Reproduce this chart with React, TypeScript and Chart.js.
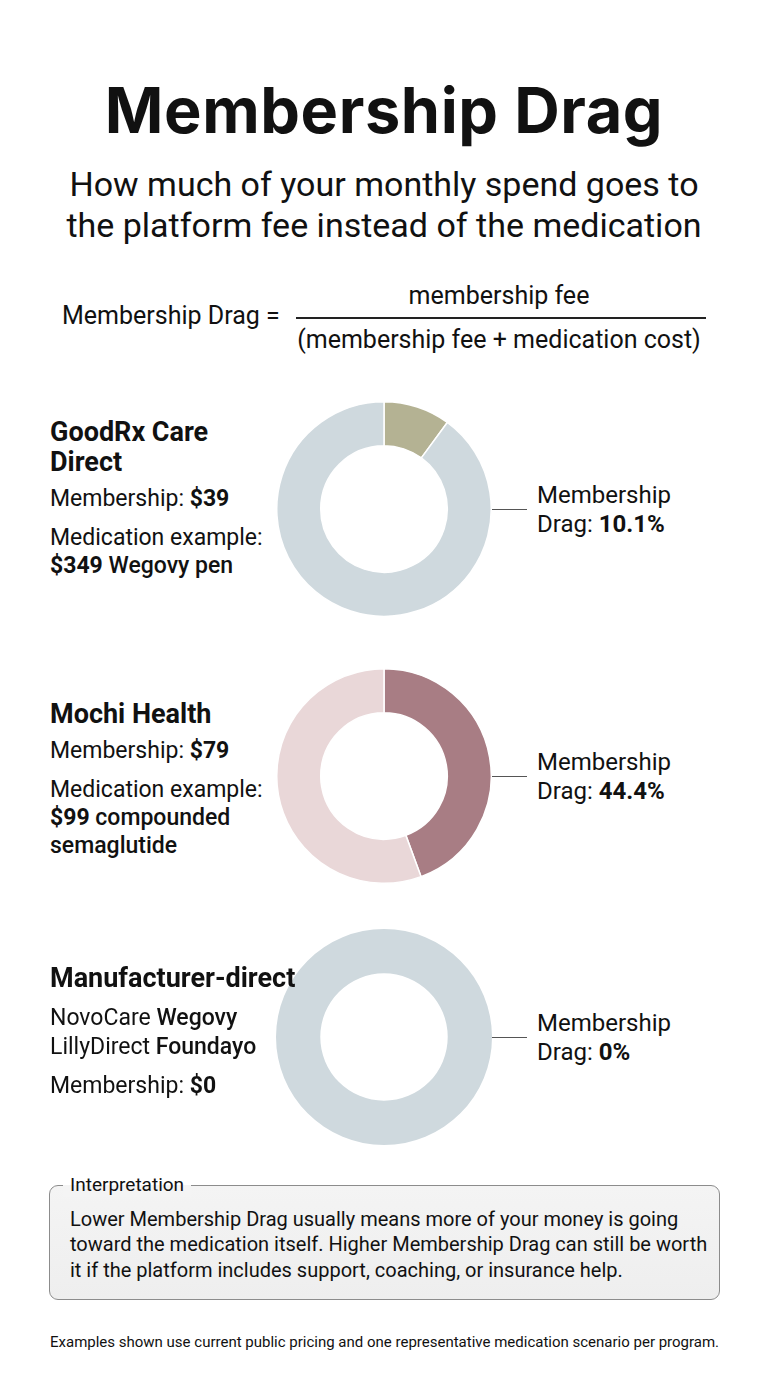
import React, { useEffect, useRef } from "react";
import { Chart, registerables } from "chart.js";

Chart.register(...registerables);

// ---- Data ----
const programs = ["GoodRx Care Direct", "Mochi Health", "Manufacturer-direct"];
const membershipFees = [39, 79, 0];
const medicationCosts = [349, 99, 0];
const dragPercentLabels = ["10.1%", "44.4%", "0%"];
const segmentLabels = ["Membership fee", "Medication cost"];
const feeColors = ["#b4b293", "#a87d84", "#cfd9de"];
const medColors = ["#cfd9de", "#e9d7d8", "#cfd9de"];

const FONT = "Roboto, 'Noto Sans', 'DejaVu Sans', sans-serif";
const CENTERS_Y = [509, 776, 1037];
const SIZE = 216;

function Donut({ idx }: { idx: number }) {
  const ref = useRef<HTMLCanvasElement | null>(null);
  useEffect(() => {
    if (!ref.current) return;
    const fee = membershipFees[idx];
    const med = medicationCosts[idx];
    const data = fee === 0 && med === 0 ? [0, 1] : [fee, med];
    const hasZero = data.some((v) => v === 0);
    const chart = new Chart(ref.current, {
      type: "doughnut",
      data: {
        labels: segmentLabels,
        datasets: [
          {
            data,
            backgroundColor: [feeColors[idx], medColors[idx]],
            borderColor: "#ffffff",
            borderWidth: hasZero ? 0 : 1.5,
          },
        ],
      },
      options: {
        animation: false,
        responsive: false,
        maintainAspectRatio: false,
        cutout: "59%",
        layout: { padding: 0 },
        plugins: { legend: { display: false }, tooltip: { enabled: false } },
        events: [],
      },
    });
    return () => chart.destroy();
  }, [idx]);
  return (
    <canvas
      ref={ref}
      width={SIZE}
      height={SIZE}
      style={{
        position: "absolute",
        left: 384 - SIZE / 2,
        top: CENTERS_Y[idx] - SIZE / 2,
        width: SIZE,
        height: SIZE,
      }}
    />
  );
}

function T({
  x,
  y,
  size,
  weight = 400,
  children,
  center = false,
  lh,
  ls,
}: {
  x: number;
  y: number;
  size: number;
  weight?: number;
  children: React.ReactNode;
  center?: boolean;
  lh?: number;
  ls?: number;
}) {
  const lineH = lh ?? Math.round(size * 1.2);
  const style: React.CSSProperties = {
    position: "absolute",
    top: y - lineH / 2,
    fontSize: size,
    lineHeight: lineH + "px",
    fontWeight: weight,
    whiteSpace: "nowrap",
    color: "#111",
  };
  if (ls !== undefined) style.letterSpacing = ls;
  if (center) {
    style.left = x - 384;
    style.width = 768;
    style.textAlign = "center";
  } else {
    style.left = x;
  }
  return <div style={style}>{children}</div>;
}

const B = ({ children }: { children: React.ReactNode }) => <span style={{ fontWeight: 700 }}>{children}</span>;
const M = ({ children }: { children: React.ReactNode }) => <span style={{ fontWeight: 500 }}>{children}</span>;

export default function App() {
  useEffect(() => {
    document.body.style.margin = "0";
  }, []);
  const labelS = 23;
  const headS = 27;
  return (
    <div
      style={{
        position: "absolute",
        left: 0,
        top: 0,
        width: 768,
        height: 1376,
        background: "#ffffff",
        fontFamily: FONT,
        color: "#111",
        overflow: "hidden",
      }}
    >
      <T x={384} y={110} size={63} weight={700} center ls={0.6}>
        <span style={{ fontFamily: "Inter, Roboto, sans-serif" }}>Membership Drag</span>
      </T>
      <T x={384} y={184} size={34} center>How much of your monthly spend goes to</T>
      <T x={384} y={225} size={34} center>the platform fee instead of the medication</T>

      {/* Formula */}
      <T x={62} y={316} size={25}>Membership Drag =</T>
      <T x={499} y={296} size={25} center>membership fee</T>
      <div style={{ position: "absolute", left: 296, top: 317, width: 410, height: 1.5, background: "#222" }} />
      <T x={499} y={340} size={25} center>(membership fee + medication cost)</T>

      {/* Section 1 */}
      <T x={50} y={432} size={headS} weight={700}>GoodRx Care</T>
      <T x={50} y={462} size={headS} weight={700}>Direct</T>
      <T x={50} y={499} size={labelS}>Membership: <B>${membershipFees[0]}</B></T>
      <T x={50} y={538} size={labelS}>Medication example:</T>
      <T x={50} y={566} size={labelS}><B>${medicationCosts[0]}</B> <M>Wegovy pen</M></T>

      {/* Section 2 */}
      <T x={50} y={714} size={headS} weight={700}>{programs[1]}</T>
      <T x={50} y={751} size={labelS}>Membership: <B>${membershipFees[1]}</B></T>
      <T x={50} y={790} size={labelS}>Medication example:</T>
      <T x={50} y={818} size={labelS}><B>${medicationCosts[1]}</B> <M>compounded</M></T>
      <T x={50} y={846} size={labelS}><M>semaglutide</M></T>

      {/* Donuts */}
      <Donut idx={0} />
      <Donut idx={1} />
      <Donut idx={2} />

      {/* Section 3 */}
      <T x={50} y={978} size={headS} weight={700}>{programs[2]}</T>
      <T x={50} y={1018} size={labelS}>NovoCare <M>Wegovy</M></T>
      <T x={50} y={1047} size={labelS}>LillyDirect <M>Foundayo</M></T>
      <T x={50} y={1086} size={labelS}>Membership: <B>${membershipFees[2]}</B></T>

      {/* Right labels with leader lines */}
      {CENTERS_Y.map((cy, i) => (
        <React.Fragment key={i}>
          <div
            style={{
              position: "absolute",
              left: 492,
              top: cy - 0.5,
              width: 35,
              height: 1.2,
              background: "#555",
            }}
          />
          <T x={537} y={cy - 14} size={24}>Membership</T>
          <T x={537} y={cy + 15} size={24}>
            Drag: <B>{dragPercentLabels[i]}</B>
          </T>
        </React.Fragment>
      ))}

      {/* Interpretation box */}
      <div
        style={{
          position: "absolute",
          left: 49,
          top: 1185,
          width: 671,
          height: 115,
          border: "1px solid #8c8c8c",
          borderRadius: 9,
          background: "linear-gradient(180deg, #f4f4f4 0%, #eeeeee 100%)",
          boxSizing: "border-box",
        }}
      />
      <div
        style={{
          position: "absolute",
          left: 63,
          top: 1185 - 12,
          height: 24,
          lineHeight: "24px",
          padding: "0 7px",
          fontSize: 19,
          color: "#111",
          background: "linear-gradient(180deg, #ffffff 50%, #f4f4f4 50%)",
        }}
      >
        Interpretation
      </div>
      <T x={70} y={1219} size={20} lh={25}>Lower Membership Drag usually means more of your money is going</T>
      <T x={70} y={1244} size={20} lh={25}>toward the medication itself. Higher Membership Drag can still be worth</T>
      <T x={70} y={1270} size={20} lh={25}>it if the platform includes support, coaching, or insurance help.</T>

      <T x={50} y={1342} size={15}>
        Examples shown use current public pricing and one representative medication scenario per program.
      </T>
    </div>
  );
}
